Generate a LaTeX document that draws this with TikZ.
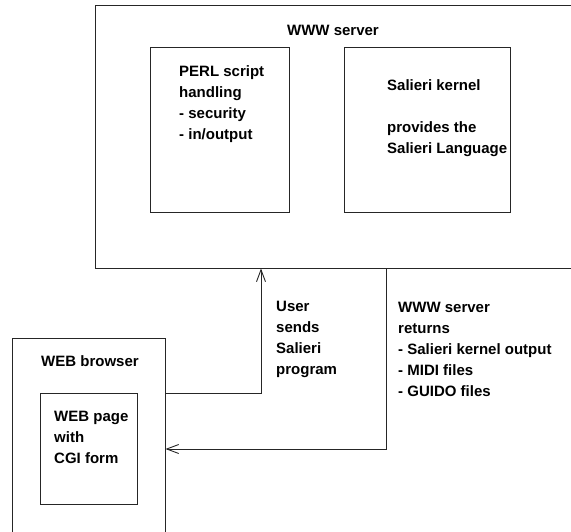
\documentclass[tikz,border=0pt]{standalone}
\usepackage{fontspec}
\setmainfont{Liberation Sans}
\usetikzlibrary{arrows.meta}

\begin{document}
\begin{tikzpicture}[x=1pt,y=-1pt,
  box/.style={draw=black!85,line width=0.9pt,rectangle,inner sep=0pt},
  txt/.style={font=\fontsize{15}{21}\selectfont\bfseries,align=left,inner sep=0pt},
  link/.style={draw=black!85,line width=0.9pt,-{Straight Barb[length=12pt,width=9pt]}}]

\clip (0,0) rectangle (571,531);
\useasboundingbox (0,0) rectangle (571,531);

\node[box,minimum width=490pt,minimum height=263pt] (server) at (340,136.5) {};
\node[box,minimum width=139pt,minimum height=165pt] (perl) at (220.2,130.3) {};
\node[box,minimum width=166pt,minimum height=165pt] (kernel) at (427.7,130.3) {};
\node[box,minimum width=153pt,minimum height=240pt] (browser) at (88.5,458) {};
\node[box,minimum width=97pt,minimum height=111pt] (page) at (88.5,448.5) {};

\node[txt,anchor=base] (servertitle) at (333,35.5) {WWW server};
\node[txt,anchor=base west] (perltext) at (179,139) {PERL script\\handling\\- security\\- in/output};
\node[txt,anchor=base west] (kerneltext) at (387,153) {Salieri kernel\\[21pt]provides the\\Salieri Language};
\node[txt,anchor=base west] (browsertitle) at (41,366) {WEB browser};
\node[txt,anchor=base west] (pagetext) at (54,463) {WEB page\\with\\CGI form};
\node[txt,anchor=base west] (sendtext) at (276,374) {User\\sends\\Salieri\\program};
\node[txt,anchor=base west] (returntext) at (398,396) {WWW server\\returns\\- Salieri kernel output\\- MIDI files\\- GUIDO files};

\coordinate (sendpt) at (261,393);
\coordinate (retpt) at (386,449);

\draw[link] (browser.east |- sendpt) -| (server.south -| sendpt);
\draw[link] (server.south -| retpt) |- (browser.east |- retpt);

\end{tikzpicture}
\end{document}
